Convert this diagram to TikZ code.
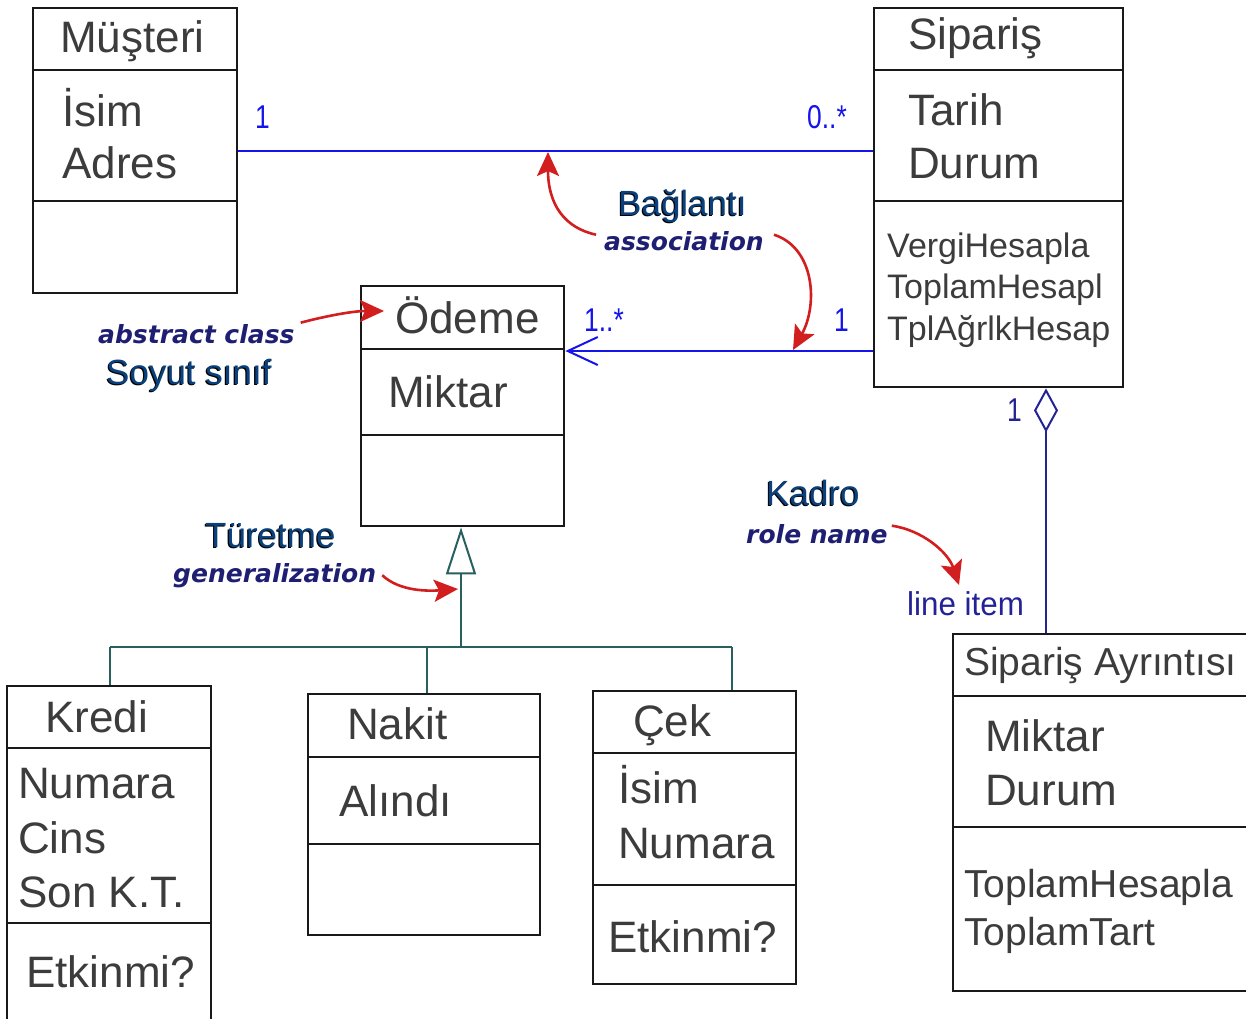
\documentclass[tikz,border=0pt]{standalone}
\usepackage{fontspec}
\usepackage{graphicx}
\setmainfont{Liberation Sans}
\newfontfamily\notefont{DejaVu Sans}
\usetikzlibrary{arrows.meta}

\definecolor{boxtext}{RGB}{60,60,60}
\definecolor{boxline}{RGB}{25,25,25}
\definecolor{assoc}{RGB}{20,20,235}
\definecolor{aggr}{RGB}{35,35,150}
\definecolor{genline}{RGB}{40,95,95}
\definecolor{notehead}{RGB}{10,65,125}
\definecolor{noteit}{RGB}{30,30,115}
\definecolor{pointer}{RGB}{210,30,30}

% dark heading with a thin black drop shadow
\newcommand\shadowtext[1]{\makebox[0pt][l]{\hspace{-1.2pt}\raisebox{-1.2pt}{\color{black}#1}}#1}
% narrow multiplicity text
\newcommand\multtext[1]{\scalebox{0.8}[1]{#1}}

\tikzset{
  classbox/.style={draw=boxline, line width=2.4pt, rectangle, inner sep=0pt, anchor=north west},
  divider/.style={draw=boxline, line width=2.4pt},
  bigtext/.style={anchor=base west, inner sep=0pt, text=boxtext, font=\fontsize{44}{53}\selectfont},
  midtext/.style={anchor=base west, inner sep=0pt, text=boxtext, font=\fontsize{34}{41}\selectfont},
  medtext/.style={anchor=base west, inner sep=0pt, text=boxtext, font=\fontsize{39}{47}\selectfont},
  multlabel/.style={anchor=base west, inner sep=0pt, font=\fontsize{33}{33}\selectfont},
  notehead/.style={anchor=base west, inner sep=0pt, text=notehead, font=\fontsize{35}{35}\selectfont},
  noteit/.style={anchor=base west, inner sep=0pt, text=noteit, font=\notefont\bfseries\itshape\fontsize{25}{25}\selectfont},
  assocline/.style={draw=assoc, line width=2.2pt},
  aggrline/.style={draw=aggr, line width=2.2pt},
  genlink/.style={draw=genline, line width=2.2pt},
  pointerarrow/.style={draw=pointer, line width=2.6pt,
    -{Stealth[length=24pt, width=22pt, inset=5pt]}},
}

\begin{document}
\begin{tikzpicture}[x=1pt, y=-1pt]
\useasboundingbox (0,0) rectangle (1246,1018);
\fill[white] (0,0) rectangle (1246,1018);

% ---------- class boxes ----------
\node[classbox, minimum width=204pt, minimum height=285pt] (mus) at (32,7) {};
\draw[divider] (mus.west |- 0,70) -- (mus.east |- 0,70);
\draw[divider] (mus.west |- 0,201) -- (mus.east |- 0,201);
\node[bigtext] (musT) at (60,52) {Müşteri};
\node[bigtext] (musA1) at (62,126) {İsim};
\node[bigtext] (musA2) at (62,178) {Adres};

\node[classbox, minimum width=249pt, minimum height=379pt] (sip) at (873,7) {};
\draw[divider] (sip.west |- 0,70) -- (sip.east |- 0,70);
\draw[divider] (sip.west |- 0,201) -- (sip.east |- 0,201);
\node[bigtext] (sipT) at (908,49) {Sipariş};
\node[bigtext] (sipA1) at (908,125) {Tarih};
\node[bigtext] (sipA2) at (908,178) {Durum};
\node[midtext] (sipM1) at (887,257) {VergiHesapla};
\node[midtext] (sipM2) at (887,298) {ToplamHesapl};
\node[midtext] (sipM3) at (887,340) {TplAğrlkHesap};

\node[classbox, minimum width=203pt, minimum height=240pt] (ode) at (360,285) {};
\draw[divider] (ode.west |- 0,349) -- (ode.east |- 0,349);
\draw[divider] (ode.west |- 0,435) -- (ode.east |- 0,435);
\node[bigtext] (odeT) at (395,333) {Ödeme};
\node[bigtext] (odeA1) at (388,407) {Miktar};

\node[classbox, minimum width=204pt, minimum height=345pt] (kre) at (6,685) {};
\draw[divider] (kre.west |- 0,748) -- (kre.east |- 0,748);
\draw[divider] (kre.west |- 0,923) -- (kre.east |- 0,923);
\node[bigtext] (kreT) at (45,732) {Kredi};
\node[bigtext] (kreA1) at (18,798) {Numara};
\node[bigtext] (kreA2) at (18,853) {Cins};
\node[bigtext] (kreA3) at (18,907) {Son K.T.};
\node[bigtext] (kreM1) at (26,987) {Etkinmi?};

\node[classbox, minimum width=232pt, minimum height=241pt] (nak) at (307,693) {};
\draw[divider] (nak.west |- 0,757) -- (nak.east |- 0,757);
\draw[divider] (nak.west |- 0,844) -- (nak.east |- 0,844);
\node[bigtext] (nakT) at (347,739) {Nakit};
\node[bigtext] (nakA1) at (339,816) {Alındı};

\node[classbox, minimum width=203pt, minimum height=293pt] (cek) at (592,690) {};
\draw[divider] (cek.west |- 0,753) -- (cek.east |- 0,753);
\draw[divider] (cek.west |- 0,885) -- (cek.east |- 0,885);
\node[bigtext] (cekT) at (633,736) {Çek};
\node[bigtext] (cekA1) at (618,803) {İsim};
\node[bigtext] (cekA2) at (618,858) {Numara};
\node[bigtext] (cekM1) at (608,952) {Etkinmi?};

\node[classbox, minimum width=310pt, minimum height=357pt] (ayr) at (952,633) {};
\draw[divider] (ayr.west |- 0,696) -- (ayr.east |- 0,696);
\draw[divider] (ayr.west |- 0,827) -- (ayr.east |- 0,827);
\node[medtext] (ayrT) at (964,675) {Sipariş Ayrıntısı};
\node[bigtext] (ayrA1) at (985,751) {Miktar};
\node[bigtext] (ayrA2) at (985,805) {Durum};
\node[medtext] (ayrM1) at (964,897) {ToplamHesapla};
\node[medtext] (ayrM2) at (964,945) {ToplamTart};

% ---------- associations ----------
\draw[assocline] (mus.east) -- (mus.east -| sip.west);
\node[multlabel, text=assoc] (m1) at (255,128) {\multtext{1}};
\node[multlabel, text=assoc] (m2) at (807,128) {\multtext{0..*}};

\coordinate (payRow) at (0,351);
\draw[assocline, -{Straight Barb[length=30pt, width=28pt, line width=2pt]}]
  (sip.west |- payRow) -- (ode.east |- payRow);
\node[multlabel, text=assoc] (m3) at (584,331) {\multtext{1..*}};
\node[multlabel, text=assoc] (m4) at (834,331) {\multtext{1}};

% ---------- aggregation ----------
\coordinate (aggX) at (1046,0);
\draw[aggrline, {Diamond[open, length=44pt, width=24pt, line width=2pt]}-]
  (sip.south -| aggX) -- (ayr.north -| aggX);
\node[multlabel, text=aggr] (m5) at (1007,421) {\multtext{1}};
\node[multlabel, text=aggr] (role) at (907,615) {\scalebox{0.95}[1]{line item}};

% ---------- generalization ----------
\coordinate (genJoin) at (461,647);
\coordinate (genL) at (110,647);
\coordinate (genM) at (427,647);
\coordinate (genR) at (732,647);
\draw[genlink, -{Triangle[open, length=47pt, width=30pt, line width=2pt]}]
  (genJoin) -- (ode.south -| genJoin);
\draw[genlink] (genL) -- (genR);
\draw[genlink] (genL) -- (kre.north -| genL);
\draw[genlink] (genM) -- (nak.north -| genM);
\draw[genlink] (genR) -- (cek.north -| genR);

% ---------- notes ----------
\node[notehead] (nBag) at (618,215) {\shadowtext{Bağlantı}};
\node[noteit] (nAssoc) at (604,250) {association};
\node[noteit] (nAbs) at (98,343) {abstract class};
\node[notehead] (nSoy) at (106,384) {\shadowtext{Soyut sınıf}};
\node[notehead] (nTur) at (205,547) {\shadowtext{Türetme}};
\node[noteit] (nGen) at (173,582) {generalization};
\node[notehead] (nKad) at (766,505) {\shadowtext{Kadro}};
\node[noteit] (nRole) at (746,543) {role name};

% ---------- pointers ----------
\coordinate (tipA) at (548,152);
\coordinate (tipB) at (793,350);
\coordinate (tipC) at (384,311);
\coordinate (tipD) at (458,589);
\coordinate (tipE) at (959,585);
\draw[pointerarrow] (nAssoc.west) ++(-8,-6) .. controls (565,228) and (548,205) .. (tipA);
\draw[pointerarrow] (nAssoc.east) ++(10,-6) .. controls (815,248) and (818,305) .. (tipB);
\draw[pointerarrow] (nAbs.east) ++(6,-11) .. controls (318,318) and (350,311) .. (tipC);
\draw[pointerarrow] (nGen.east) ++(6,0) .. controls (400,592) and (430,591) .. (tipD);
\draw[pointerarrow] (nRole.east) ++(4,-8) .. controls (922,530) and (948,552) .. (tipE);
\end{tikzpicture}
\end{document}
